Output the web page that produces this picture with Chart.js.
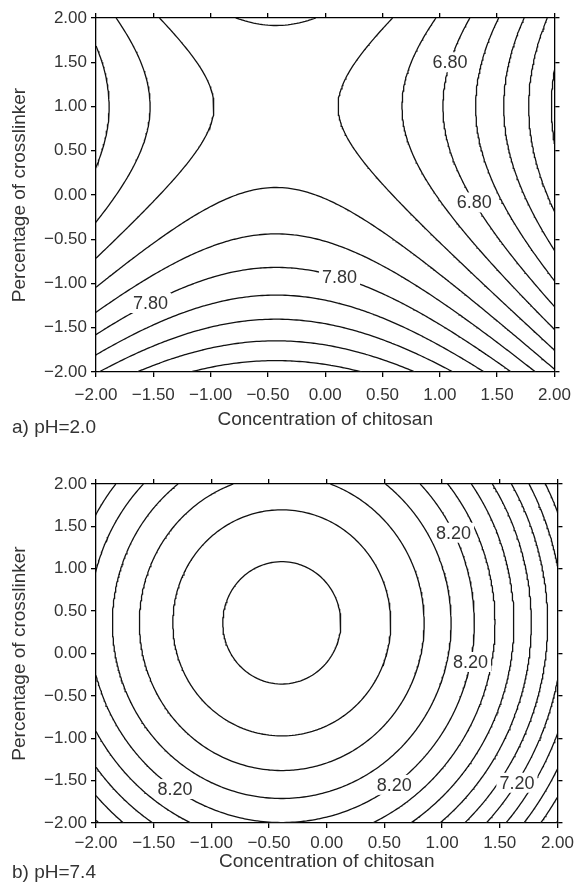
<!DOCTYPE html>
<html>
<head>
<meta charset="utf-8">
<script src="https://cdn.jsdelivr.net/npm/chart.js@4.4.1/dist/chart.umd.min.js"></script>
<style>
  html, body { margin: 0; padding: 0; background: #fff; }
  #wrap { position: relative; width: 579px; height: 882px; }
  .panel { position: absolute; left: 0; width: 579px; }
</style>
</head>
<body>
<div id="wrap">
  <div class="panel" style="top:0;height:440px"><canvas id="phA"></canvas></div>
  <div class="panel" style="top:440px;height:442px"><canvas id="phB"></canvas></div>
</div>
<script>
// coded factor levels on both axes
const tickValues = [-2.0, -1.5, -1.0, -0.5, 0.0, 0.5, 1.0, 1.5, 2.0];

// fitted quadratic surfaces: b0, bX, bY, bXX, bYY, bXY
const coefA = [7.386, -0.188, -0.324, -0.219, 0.162, 0.0];
const coefB = [9.014, -0.247, 0.115, -0.317, -0.159, 0.0];

// contour levels for each panel
const levelsA = [5.80, 6.00, 6.20, 6.40, 6.60, 6.80, 7.00, 7.20, 7.40, 7.60, 7.80, 8.00, 8.20, 8.40, 8.60, 8.80, 9.00];
const levelsB = [6.00, 6.20, 6.40, 6.60, 6.80, 7.00, 7.20, 7.40, 7.60, 7.80, 8.00, 8.20, 8.40, 8.60, 8.80, 9.00];

// inline labels: level, approximate x, approximate y
const labelsA = [[6.80, 1.08, 1.50], [6.80, 1.31, -0.08], [7.80, 0.16, -0.82], [7.80, -1.55, -1.13]];
const labelsB = [[8.20, 1.15, 1.47], [8.20, 1.21, -0.09], [8.20, -1.27, -1.53], [8.20, 0.57, -1.51], [7.20, 1.63, -1.51]];

const FONT = "'Liberation Sans', Arial, Helvetica, sans-serif";
const TEXT = '#333';

function surface(c, x, y) {
  return c[0] + c[1] * x + c[2] * y + c[3] * x * x + c[4] * y * y + c[5] * x * y;
}

// marching squares, segments joined into polylines
function traceContours(coef, levels, n) {
  const xs = [], ys = [];
  for (let i = 0; i <= n; i++) { xs.push(-2 + 4 * i / n); ys.push(-2 + 4 * i / n); }
  const v = [];
  for (let j = 0; j <= n; j++) {
    const row = [];
    for (let i = 0; i <= n; i++) row.push(surface(coef, xs[i], ys[j]));
    v.push(row);
  }
  const result = [];
  levels.forEach(L => {
    const segs = [];
    const cross = (ia, ja, ib, jb) => {
      const a = v[ja][ia] - L, b = v[jb][ib] - L;
      if ((a < 0) === (b < 0)) return null;
      const t = a / (a - b);
      return { x: xs[ia] + (xs[ib] - xs[ia]) * t, y: ys[ja] + (ys[jb] - ys[ja]) * t };
    };
    for (let j = 0; j < n; j++) {
      for (let i = 0; i < n; i++) {
        const e = [
          ['h' + i + '_' + j, cross(i, j, i + 1, j)],
          ['v' + (i + 1) + '_' + j, cross(i + 1, j, i + 1, j + 1)],
          ['h' + i + '_' + (j + 1), cross(i, j + 1, i + 1, j + 1)],
          ['v' + i + '_' + j, cross(i, j, i, j + 1)]
        ];
        const hits = [0, 1, 2, 3].filter(k => e[k][1]);
        const add = (p, q) => segs.push({ kA: e[p][0], pA: e[p][1], kB: e[q][0], pB: e[q][1] });
        if (hits.length === 2) add(hits[0], hits[1]);
        else if (hits.length === 4) {
          const c = (v[j][i] + v[j][i + 1] + v[j + 1][i] + v[j + 1][i + 1]) / 4 - L;
          if ((c < 0) === (v[j][i] - L < 0)) { add(0, 1); add(2, 3); }
          else { add(0, 3); add(1, 2); }
        }
      }
    }
    const adj = new Map();
    segs.forEach((s, k) => {
      [s.kA, s.kB].forEach(key => {
        if (!adj.has(key)) adj.set(key, []);
        adj.get(key).push(k);
      });
    });
    const used = new Array(segs.length).fill(false);
    const lines = [];
    const walk = (key, line, front) => {
      for (;;) {
        const next = (adj.get(key) || []).find(m => !used[m]);
        if (next === undefined) break;
        used[next] = true;
        const t = segs[next];
        const p = t.kA === key ? t.pB : t.pA;
        key = t.kA === key ? t.kB : t.kA;
        if (front) line.unshift(p); else line.push(p);
      }
    };
    segs.forEach((s, k) => {
      if (used[k]) return;
      used[k] = true;
      const line = [s.pA, s.pB];
      walk(s.kB, line, false);
      walk(s.kA, line, true);
      lines.push(line);
    });
    result.push({ level: L, lines });
  });
  return result;
}

const fmt = v => v.toFixed(2).replace('-', '\u2212');

const contourLabels = {
  id: 'contourLabels',
  afterDatasetsDraw(chart, args, opts) {
    const { ctx, scales } = chart;
    const xs = scales.x, ys = scales.y;
    ctx.save();
    ctx.font = '18px ' + FONT;
    ctx.textAlign = 'center';
    ctx.textBaseline = 'middle';
    opts.items.forEach(([level, ax, ay]) => {
      const set = opts.contours.find(c => Math.abs(c.level - level) < 1e-6);
      if (!set) return;
      const tx = xs.getPixelForValue(ax), ty = ys.getPixelForValue(ay);
      let best = null, bd = Infinity;
      set.lines.forEach(line => line.forEach(p => {
        const px = xs.getPixelForValue(p.x), py = ys.getPixelForValue(p.y);
        const d = (px - tx) ** 2 + (py - ty) ** 2;
        if (d < bd) { bd = d; best = [px, py]; }
      }));
      if (!best) return;
      const txt = level.toFixed(2);
      const w = ctx.measureText(txt).width;
      ctx.fillStyle = '#fff';
      ctx.fillRect(best[0] - w / 2 - 3, best[1] - 10, w + 6, 20);
      ctx.fillStyle = TEXT;
      ctx.fillText(txt, best[0], best[1] + 1);
    });
    ctx.restore();
  }
};

const caption = {
  id: 'caption',
  afterDraw(chart, args, opts) {
    const ctx = chart.ctx;
    ctx.save();
    ctx.font = '19px ' + FONT;
    ctx.fillStyle = TEXT;
    ctx.textAlign = 'left';
    ctx.textBaseline = 'middle';
    ctx.fillText(opts.text, 12, opts.y);
    ctx.restore();
  }
};

function axis(position, size, withLabels, tickPad, title, titlePad) {
  const horizontal = position === 'top' || position === 'bottom';
  return {
    type: 'linear',
    position: position,
    min: -2, max: 2,
    afterBuildTicks: s => { s.ticks = tickValues.map(v => ({ value: v })); },
    afterFit: s => { if (horizontal) s.height = size; else s.width = size; },
    ticks: {
      display: withLabels,
      callback: v => fmt(v),
      autoSkip: false, maxRotation: 0, minRotation: 0,
      color: TEXT,
      font: { family: FONT, size: 17 },
      padding: tickPad
    },
    grid: { drawOnChartArea: false, drawTicks: true, tickLength: 5, color: '#000', lineWidth: 1.3 },
    border: { display: true, color: '#000', width: 1.3 },
    title: title ? {
      display: true, text: title, color: TEXT,
      font: { family: FONT, size: 19 },
      padding: titlePad
    } : { display: false }
  };
}

function makePanel(id, coef, levels, labels, box, captionText) {
  const contours = traceContours(coef, levels, 160);
  const datasets = [];
  contours.forEach(c => c.lines.forEach(line => datasets.push({
    data: line,
    showLine: true,
    pointRadius: 0,
    pointHoverRadius: 0,
    borderColor: '#111',
    borderWidth: 1.3,
    fill: false,
    tension: 0
  })));
  new Chart(document.getElementById(id), {
    type: 'scatter',
    data: { datasets },
    options: {
      responsive: true,
      maintainAspectRatio: false,
      animation: false,
      events: [],
      layout: { padding: 0 },
      plugins: {
        legend: { display: false },
        tooltip: { enabled: false },
        contourLabels: { items: labels, contours },
        caption: { text: captionText, y: box.captionY }
      },
      scales: {
        x: axis('bottom', box.bottom, true, box.xPad, 'Concentration of chitosan', { top: 0, bottom: box.titleBottom }),
        y: axis('left', box.left, true, 4, 'Percentage of crosslinker', { top: 8, bottom: 0 }),
        x2: axis('top', box.top, false, 3),
        y2: axis('right', box.right, false, 3)
      }
    },
    plugins: [contourLabels, caption]
  });
}

makePanel('phA', coefA, levelsA, labelsA,
  { top: 18, bottom: 68, left: 96, right: 21, xPad: 8, titleBottom: 9, captionY: 428 }, 'a) pH=2.0');
makePanel('phB', coefB, levelsB, labelsB,
  { top: 44, bottom: 59, left: 96, right: 19, xPad: 5, titleBottom: 9, captionY: 433 }, 'b) pH=7.4');
</script>
</body>
</html>
